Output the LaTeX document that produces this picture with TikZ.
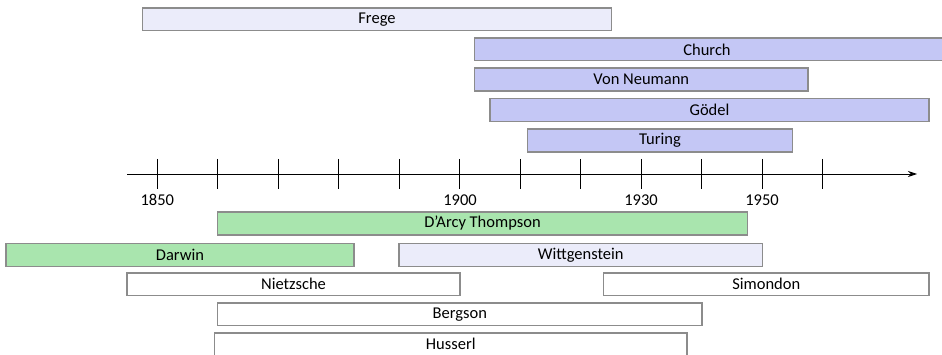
\documentclass[tikz,border=0pt]{standalone}
\usepackage{fontspec}
\setmainfont{Carlito}
\usetikzlibrary{arrows.meta}
\definecolor{lightlav}{HTML}{EBECFA}
\definecolor{lav}{HTML}{C4C7F5}
\definecolor{grn}{HTML}{A9E5AE}
\definecolor{bord}{HTML}{8C8C8C}
\tikzset{
  bar/.style={draw=bord, line width=1.4pt, inner sep=0pt},
  bartext/.style={font=\fontsize{16.5}{18}\selectfont},
  tickmark/.style={line width=0.9pt},
  yearlabel/.style={font=\fontsize{16.5}{18}\selectfont}
}
\newcommand{\lifebar}[6]{%
  \node[bar, fill=#6, minimum width={#3-#2}, minimum height={#5-#4}] (#1) at ({(#2+#3)/2},{(#4+#5)/2}) {};
}
\begin{document}
\begin{tikzpicture}[x=1pt,y=-1pt]
\useasboundingbox (0,0) rectangle (942,355);
% axis
\coordinate (axs) at (127,174);
\coordinate (axe) at (917,174);
\draw[line width=0.9pt, -{Stealth[length=9pt,width=6pt]}] (axs) -- (axe);
\foreach \i in {0,...,11} {
  \draw[tickmark] ({157.3+60.5*\i},159) -- ({157.3+60.5*\i},189);
}
\node[yearlabel] (y1850) at (157.3,200) {1850};
\node[yearlabel] (y1900) at (460,200) {1900};
\node[yearlabel] (y1930) at (641,200) {1930};
\node[yearlabel] (y1950) at (762,200) {1950};
% top bars
\lifebar{frege}{142.5}{611.5}{8}{30.5}{lightlav}
\node[bartext] at (frege) {Frege};
\lifebar{church}{474.5}{948}{38}{60.5}{lav}
\node[bartext] at (707,49.5) {Church};
\lifebar{vonneumann}{474.5}{808}{68}{91}{lav}
\node[bartext] at (vonneumann) {Von Neumann};
\lifebar{goedel}{490}{929}{98.5}{121.5}{lav}
\node[bartext] at (goedel) {Gödel};
\lifebar{turing}{527.5}{792.5}{129}{152}{lav}
\node[bartext] at (turing) {Turing};
% bottom bars
\lifebar{darcy}{217.5}{747.5}{212}{235}{grn}
\node[bartext] at (darcy) {D'Arcy Thompson};
\lifebar{darwin}{6}{354}{243.5}{266.5}{grn}
\node[bartext] at (darwin) {Darwin};
\lifebar{wittgenstein}{399}{762.5}{243.5}{266.5}{lightlav}
\node[bartext] at (wittgenstein) {Wittgenstein};
\lifebar{nietzsche}{127}{460}{273}{295.5}{white}
\node[bartext] at (nietzsche) {Nietzsche};
\lifebar{simondon}{603.5}{929}{273}{295.5}{white}
\node[bartext] at (simondon) {Simondon};
\lifebar{bergson}{217.5}{702}{303}{325.5}{white}
\node[bartext] at (bergson) {Bergson};
\lifebar{husserl}{214.5}{687}{333}{362}{white}
\node[bartext] at (450.75,343.5) {Husserl};
\end{tikzpicture}
\end{document}
